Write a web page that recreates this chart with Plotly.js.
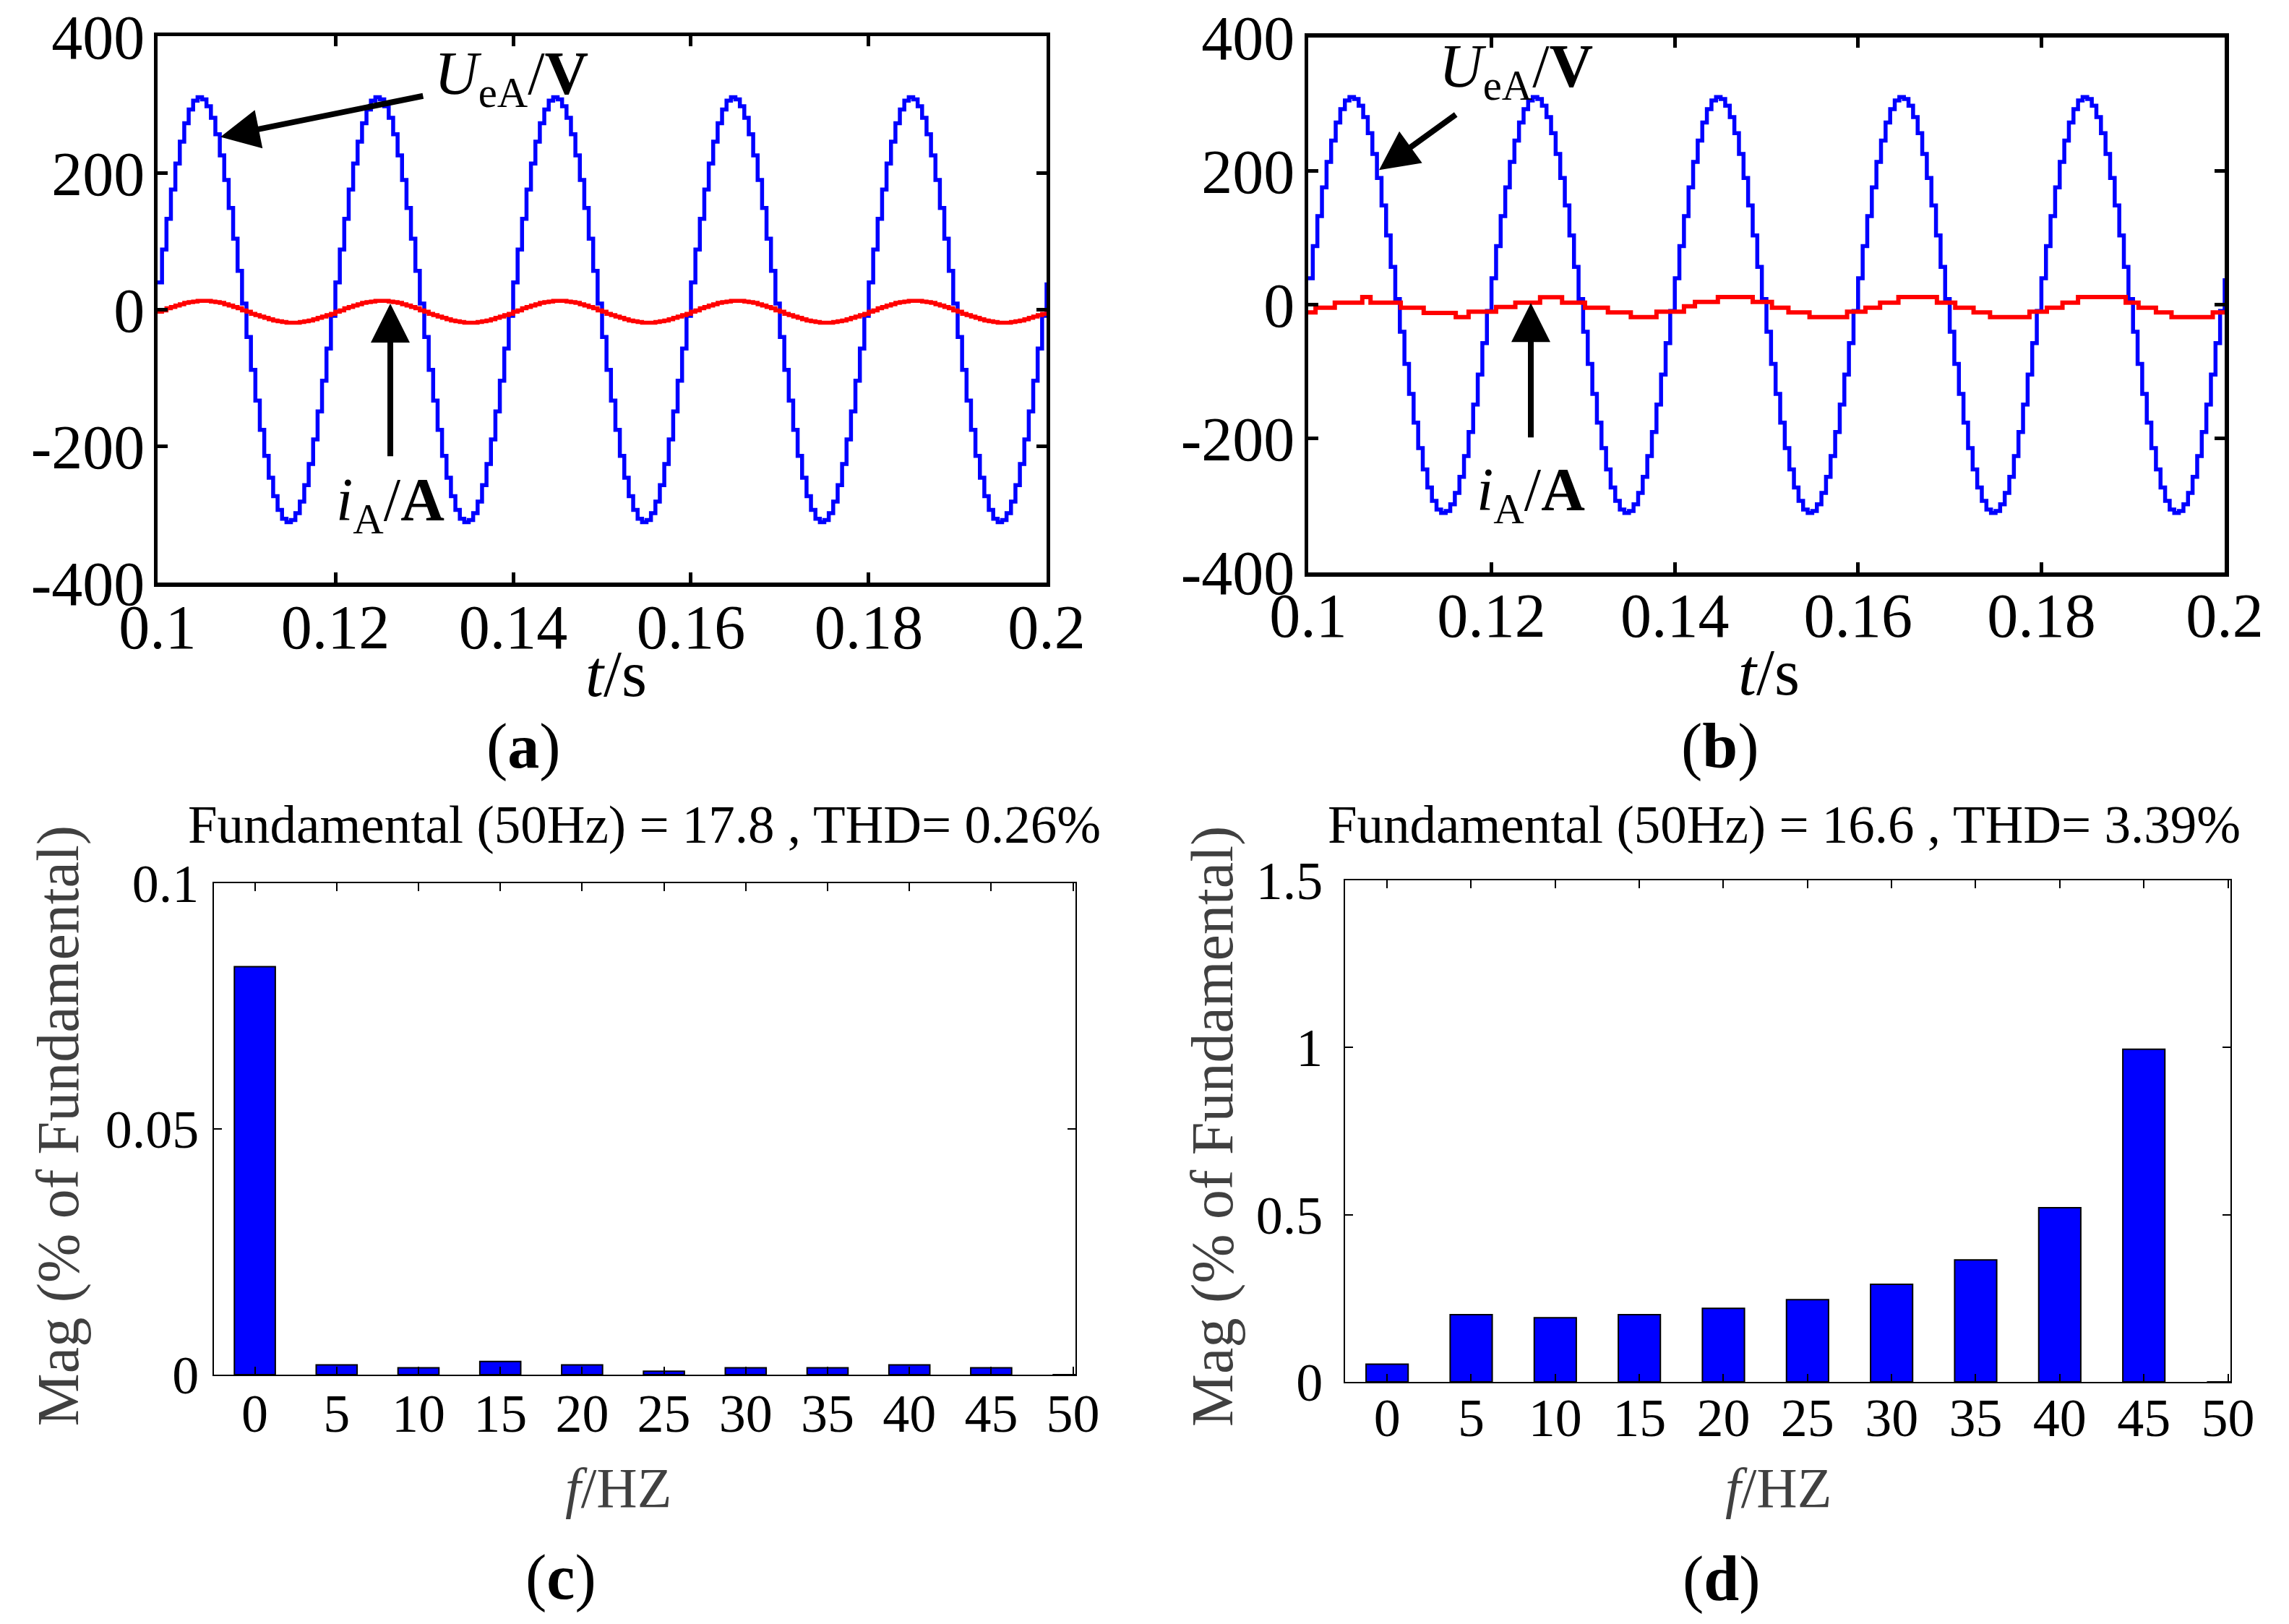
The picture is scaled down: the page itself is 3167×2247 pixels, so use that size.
<!DOCTYPE html>
<html><head><meta charset="utf-8">
<script src="https://cdn.plot.ly/plotly-3.0.1.min.js"></script>
<style>html,body{margin:0;padding:0;background:#fff;} #plot{width:3167px;height:2247px;}</style>
</head><body><div id="plot"></div>
<script>
// ---------- data ----------
const timeStart = 0.1;      // s, first sample
const timeStep = 0.0005;    // s, sample interval of the stepped waveforms

// (a) grid voltage U_eA (V), one value per sample step
const voltageA = [
40,88,133,176,214,246,273,293,306,311,308,298,281,257,226,190,149,104,57,9,-40,-88,-133,-176,-214,-246,-273,-293,-306,-311,-308,-298,-281,-257,-226,-190,-149,-104,-57,-9,
40,88,133,176,214,246,273,293,306,311,308,298,281,257,226,190,149,104,57,9,-40,-88,-133,-176,-214,-246,-273,-293,-306,-311,-308,-298,-281,-257,-226,-190,-149,-104,-57,-9,
40,88,133,176,214,246,273,293,306,311,308,298,281,257,226,190,149,104,57,9,-40,-88,-133,-176,-214,-246,-273,-293,-306,-311,-308,-298,-281,-257,-226,-190,-149,-104,-57,-9,
40,88,133,176,214,246,273,293,306,311,308,298,281,257,226,190,149,104,57,9,-40,-88,-133,-176,-214,-246,-273,-293,-306,-311,-308,-298,-281,-257,-226,-190,-149,-104,-57,-9,
40,88,133,176,214,246,273,293,306,311,308,298,281,257,226,190,149,104,57,9,-40,-88,-133,-176,-214,-246,-273,-293,-306,-311,-308,-298,-281,-257,-226,-190,-149,-104,-57,-9,
40];

// (a) current i_A (A)
const currentA = [
-3,-1,2,4,6,8,10,11,12,13,13,13,12,11,10,8,6,4,2,-1,-3,-6,-8,-10,-12,-14,-16,-17,-18,-19,-19,-19,-18,-17,-16,-14,-12,-10,-8,-6,
-3,-1,2,4,6,8,10,11,12,13,13,13,12,11,10,8,6,4,2,-1,-3,-6,-8,-10,-12,-14,-16,-17,-18,-19,-19,-19,-18,-17,-16,-14,-12,-10,-8,-6,
-3,-1,2,4,6,8,10,11,12,13,13,13,12,11,10,8,6,4,2,-1,-3,-6,-8,-10,-12,-14,-16,-17,-18,-19,-19,-19,-18,-17,-16,-14,-12,-10,-8,-6,
-3,-1,2,4,6,8,10,11,12,13,13,13,12,11,10,8,6,4,2,-1,-3,-6,-8,-10,-12,-14,-16,-17,-18,-19,-19,-19,-18,-17,-16,-14,-12,-10,-8,-6,
-3,-1,2,4,6,8,10,11,12,13,13,13,12,11,10,8,6,4,2,-1,-3,-6,-8,-10,-12,-14,-16,-17,-18,-19,-19,-19,-18,-17,-16,-14,-12,-10,-8,-6,
-3];

// (b) grid voltage U_eA (V)
const voltageB = [
40,88,133,176,214,246,273,293,306,311,308,298,281,257,226,190,149,104,57,9,-40,-88,-133,-176,-214,-246,-273,-293,-306,-311,-308,-298,-281,-257,-226,-190,-149,-104,-57,-9,
40,88,133,176,214,246,273,293,306,311,308,298,281,257,226,190,149,104,57,9,-40,-88,-133,-176,-214,-246,-273,-293,-306,-311,-308,-298,-281,-257,-226,-190,-149,-104,-57,-9,
40,88,133,176,214,246,273,293,306,311,308,298,281,257,226,190,149,104,57,9,-40,-88,-133,-176,-214,-246,-273,-293,-306,-311,-308,-298,-281,-257,-226,-190,-149,-104,-57,-9,
40,88,133,176,214,246,273,293,306,311,308,298,281,257,226,190,149,104,57,9,-40,-88,-133,-176,-214,-246,-273,-293,-306,-311,-308,-298,-281,-257,-226,-190,-149,-104,-57,-9,
40,88,133,176,214,246,273,293,306,311,308,298,281,257,226,190,149,104,57,9,-40,-88,-133,-176,-214,-246,-273,-293,-306,-311,-308,-298,-281,-257,-226,-190,-149,-104,-57,-9,
40];

// (b) current i_A (A): coarse steps, time of each step and its level
const stepTimesB = [0.1,0.1008,0.1029,0.1059,0.1068,0.1101,0.1126,0.1161,0.1175,0.1205,0.1226,0.1253,0.1277,0.1302,0.1327,0.1352,0.1380,0.1410,0.1422,0.1447,0.1485,0.1506,0.1524,0.1547,0.1588,0.1608,0.1624,0.1644,0.1686,0.1706,0.1726,0.1744,0.1787,0.1806,0.1823,0.1840,0.1892,0.1906,0.1925,0.1942,0.1987,0.2];
const currentB = [-11,-4,3.5,12,3.5,-4,-12,-18,-10,-3,3.5,11.5,3.5,-4,-11,-18,-10,-2,4.5,12,4.5,-4,-11,-18,-10,-4,3.5,12,3.5,-4,-11,-18,-10,-4,3.5,12,3.5,-4,-11,-18,-11,-11];

const timeTicks = [0.1,0.12,0.14,0.16,0.18,0.2];
const timeTickText = ['0.1','0.12','0.14','0.16','0.18','0.2'];
const waveTicks = [-400,-200,0,200,400];
const waveTickText = ['-400','-200','0','200','400'];

// (c), (d) harmonic spectra (% of fundamental)
const harmonicFreq = [0,5,10,15,20,25,30,35,40,45,50];
const harmonicFreqText = ['0','5','10','15','20','25','30','35','40','45','50'];
const magC = [0.0830,0.0020,0.0014,0.0027,0.0020,0.0007,0.0014,0.0014,0.0020,0.0014,0];
const magD = [0.053,0.201,0.192,0.201,0.220,0.246,0.292,0.365,0.521,0.995,0];
const magTicksC = [0,0.05,0.1];
const magTickTextC = ['0','0.05','0.1'];
const magTicksD = [0,0.5,1,1.5];
const magTickTextD = ['0','0.5','1','1.5'];

const titleC = 'Fundamental (50Hz) = 17.8 , THD= 0.26%';
const titleD = 'Fundamental (50Hz) = 16.6 , THD= 3.39%';

// ---------- drawing ----------
const FONT = 'Liberation Serif, Times New Roman, serif';
const BLUE = '#0000ff', RED = '#ff0000', GRAY = '#404040';

const traces = [
  {type:'scatter', mode:'lines', x0:timeStart, dx:timeStep, y:voltageA, xaxis:'x', yaxis:'y',
   line:{color:BLUE, width:5.5, shape:'hv'}, hoverinfo:'skip'},
  {type:'scatter', mode:'lines', x0:timeStart, dx:timeStep, y:currentA, xaxis:'x', yaxis:'y',
   line:{color:RED, width:5.5, shape:'hv'}, hoverinfo:'skip'},
  {type:'scatter', mode:'lines', x0:timeStart, dx:timeStep, y:voltageB, xaxis:'x2', yaxis:'y2',
   line:{color:BLUE, width:5.5, shape:'hv'}, hoverinfo:'skip'},
  {type:'scatter', mode:'lines', x:stepTimesB, y:currentB, xaxis:'x2', yaxis:'y2',
   line:{color:RED, width:6, shape:'hv'}, hoverinfo:'skip'},
  {type:'bar', x:harmonicFreq, y:magC, width:2.5, xaxis:'x3', yaxis:'y3',
   marker:{color:BLUE, line:{color:'black', width:2}}, hoverinfo:'skip'},
  {type:'bar', x:harmonicFreq, y:magD, width:2.5, xaxis:'x4', yaxis:'y4',
   marker:{color:BLUE, line:{color:'black', width:2}}, hoverinfo:'skip'}
];

function waveAxis(extra){
  return Object.assign({showgrid:false, zeroline:false, showline:true, linecolor:'black', linewidth:5.5,
    mirror:'ticks', ticks:'inside', ticklen:14, tickwidth:5, tickcolor:'black',
    tickfont:{family:FONT, size:86, color:'black'}}, extra);
}
function specAxis(extra){
  return Object.assign({showgrid:false, zeroline:false, showline:true, linecolor:'black', linewidth:2,
    mirror:'ticks', ticks:'inside', ticklen:11, tickwidth:2, tickcolor:'black',
    tickfont:{family:FONT, size:74, color:'black'}}, extra);
}

const ARROW = {showarrow:true, arrowhead:2, arrowsize:1.35, arrowwidth:8, arrowcolor:'black'};
const LABEL_FONT = {family:FONT, size:84, color:'black'};

const layout = {
  width:3167, height:2247, margin:{l:0,r:0,t:0,b:0},
  paper_bgcolor:'white', plot_bgcolor:'white', showlegend:false,
  font:{family:FONT, color:'black'},
  bargap:0,
  xaxis: waveAxis({domain:[0.06884,0.45721], anchor:'y', range:[0.1,0.2], tickvals:timeTicks, ticktext:timeTickText, ticklabelstandoff:-18}),
  yaxis: waveAxis({domain:[0.64108,0.97753], anchor:'x', range:[-400,400], tickvals:waveTicks, ticktext:waveTickText, ticklabelstandoff:-5}),
  xaxis2: waveAxis({domain:[0.57152,0.97190], anchor:'y2', range:[0.1,0.2], tickvals:timeTicks, ticktext:timeTickText, ticklabelstandoff:-20}),
  yaxis2: waveAxis({domain:[0.64753,0.97686], anchor:'x2', range:[-400,400], tickvals:waveTicks, ticktext:waveTickText, ticklabelstandoff:-4}),
  xaxis3: specAxis({domain:[0.09346,0.46984], anchor:'y3', range:[-2.5,50.15], tickvals:harmonicFreq, ticktext:harmonicFreqText, ticklabelstandoff:-12}),
  yaxis3: specAxis({domain:[0.15354,0.45616], anchor:'x3', range:[0,0.1], tickvals:magTicksC, ticktext:magTickTextC, ticklabelstandoff:4}),
  xaxis4: specAxis({domain:[0.58762,0.97442], anchor:'y4', range:[-2.5,50.15], tickvals:harmonicFreq, ticktext:harmonicFreqText, ticklabelstandoff:-16}),
  yaxis4: specAxis({domain:[0.14909,0.45794], anchor:'x4', range:[0,1.5], tickvals:magTicksD, ticktext:magTickTextD, ticklabelstandoff:14}),
  annotations: [
    // (a) labels with arrows (arrow tip at x,y; label centred at ax,ay)
    Object.assign({xref:'x', yref:'y', axref:'x', ayref:'y', x:0.10707, y:253, ax:0.13976, ay:339, startstandoff:14,
     text:'<i>U</i><sub>eA</sub>/<b>V</b>', font:LABEL_FONT}, ARROW),
    Object.assign({xref:'x', yref:'y', axref:'x', ayref:'y', x:0.12618, y:9, ax:0.12618, ay:-285, startstandoff:12,
     text:'<i>i</i><sub>A</sub>/<b>A</b>', font:LABEL_FONT}, ARROW),
    // (b)
    Object.assign({xref:'x2', yref:'y2', axref:'x2', ayref:'y2', x:0.10773, y:202, ax:0.12271, ay:350, startstandoff:10,
     text:'<i>U</i><sub>eA</sub>/<b>V</b>', font:LABEL_FONT}, ARROW),
    Object.assign({xref:'x2', yref:'y2', axref:'x2', ayref:'y2', x:0.12429, y:3, ax:0.12429, ay:-283, startstandoff:24,
     text:'<i>i</i><sub>A</sub>/<b>A</b>', font:LABEL_FONT}, ARROW),
    // axis titles (a),(b)
    {xref:'paper', yref:'paper', x:0.26903, y:0.5848, xanchor:'center', yanchor:'middle', showarrow:false,
     text:'<i>t</i>/s', font:{family:FONT, size:90, color:'black'}},
    {xref:'paper', yref:'paper', x:0.77266, y:0.5857, xanchor:'center', yanchor:'middle', showarrow:false,
     text:'<i>t</i>/s', font:{family:FONT, size:90, color:'black'}},
    {xref:'paper', yref:'paper', x:0.22892, y:0.54072, xanchor:'center', yanchor:'middle', showarrow:false,
     text:'(<b>a</b>)', font:{family:FONT, size:88, color:'black'}},
    {xref:'paper', yref:'paper', x:0.75150, y:0.54072, xanchor:'center', yanchor:'middle', showarrow:false,
     text:'(<b>b</b>)', font:{family:FONT, size:88, color:'black'}},
    // spectra titles
    {xref:'paper', yref:'paper', x:0.28134, y:0.49177, xanchor:'center', yanchor:'middle', showarrow:false,
     text:titleC, font:{family:FONT, size:73, color:'black'}},
    {xref:'paper', yref:'paper', x:0.77960, y:0.49177, xanchor:'center', yanchor:'middle', showarrow:false,
     text:titleD, font:{family:FONT, size:73, color:'black'}},
    {xref:'paper', yref:'paper', x:0.2700, y:0.0837, xanchor:'center', yanchor:'middle', showarrow:false,
     text:'<i>f</i>/HZ', font:{family:FONT, size:78, color:GRAY}},
    {xref:'paper', yref:'paper', x:0.7770, y:0.0837, xanchor:'center', yanchor:'middle', showarrow:false,
     text:'<i>f</i>/HZ', font:{family:FONT, size:78, color:GRAY}},
    {xref:'paper', yref:'paper', x:0.0253, y:0.30663, xanchor:'center', yanchor:'middle', showarrow:false, textangle:-90,
     text:'Mag (% of Fundamental)', font:{family:FONT, size:82, color:GRAY}},
    {xref:'paper', yref:'paper', x:0.5295, y:0.30663, xanchor:'center', yanchor:'middle', showarrow:false, textangle:-90,
     text:'Mag (% of Fundamental)', font:{family:FONT, size:82, color:GRAY}},
    {xref:'paper', yref:'paper', x:0.24503, y:0.0289, xanchor:'center', yanchor:'middle', showarrow:false,
     text:'(<b>c</b>)', font:{family:FONT, size:88, color:'black'}},
    {xref:'paper', yref:'paper', x:0.75213, y:0.0280, xanchor:'center', yanchor:'middle', showarrow:false,
     text:'(<b>d</b>)', font:{family:FONT, size:88, color:'black'}}
  ]
};

Plotly.newPlot('plot', traces, layout, {staticPlot:true, displayModeBar:false});
</script>
</body></html>
